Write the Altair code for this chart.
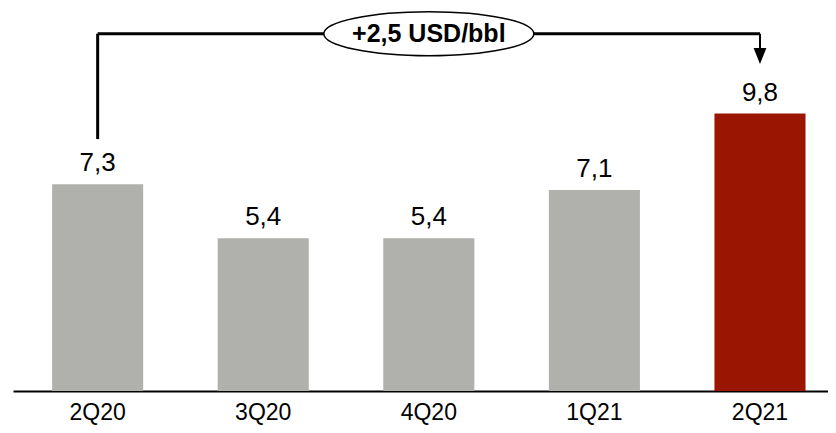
import altair as alt
import pandas as pd

quarters = ["2Q20", "3Q20", "4Q20", "1Q21", "2Q21"]
values = [7.3, 5.4, 5.4, 7.1, 9.8]
value_labels = ["7,3", "5,4", "5,4", "7,1", "9,8"]
bar_colors = ["#B0B1AD", "#B0B1AD", "#B0B1AD", "#B0B1AD", "#9B1602"]

delta_text = "+2,5 USD/bbl"
bracket_from = "2Q20"
bracket_to = "2Q21"
bracket_mid = "4Q20"
bracket_level = 12.62
bracket_start = 8.9
arrow_tip = 11.55

FONT = "Liberation Sans"

df = pd.DataFrame({"q": quarters, "v": values, "label": value_labels, "c": bar_colors})
bdf = pd.DataFrame({
    "from": [bracket_from], "to": [bracket_to], "mid": [bracket_mid],
    "top": [bracket_level], "start": [bracket_start], "tip": [arrow_tip],
    "tipline": [arrow_tip + 0.2], "label": [delta_text],
})

xscale = alt.Scale(domain=quarters, paddingInner=0.45, paddingOuter=0.186, align=0.635)
yscale = alt.Scale(domain=[0, 13.53])
xaxis = alt.Axis(title=None)

x = alt.X("q:N", sort=quarters, scale=xscale, axis=xaxis)
y = alt.Y("v:Q", scale=yscale, axis=None)

bars = alt.Chart(df).mark_bar().encode(x=x, y=y, color=alt.Color("c:N", scale=None))
vals = alt.Chart(df).mark_text(dy=-13, baseline="alphabetic", fontSize=26, font=FONT,
                               color="black").encode(x=x, y=y, text="label:N")

bx = lambda f: alt.X(f, sort=quarters, scale=xscale, axis=xaxis)
by = lambda f: alt.Y(f, scale=yscale, axis=None)

k = 0.21
c = 0.552
ellipse_path = (
    f"M-1,0C-1,{-c*k:.4f},{-c:.4f},{-k:.4f},0,{-k:.4f}"
    f"C{c:.4f},{-k:.4f},1,{-c*k:.4f},1,0"
    f"C1,{c*k:.4f},{c:.4f},{k:.4f},0,{k:.4f}"
    f"C{-c:.4f},{k:.4f},-1,{c*k:.4f},-1,0Z"
)

left = alt.Chart(bdf).mark_rule(color="black", strokeWidth=3).encode(
    x=bx("from:N"), y=by("start:Q"), y2="top:Q")
horiz = alt.Chart(bdf).mark_rule(color="black", strokeWidth=3).encode(
    x=bx("from:N"), x2="to:N", y=by("top:Q"))
right = alt.Chart(bdf).mark_rule(color="black", strokeWidth=2).encode(
    x=bx("to:N"), y=by("tipline:Q"), y2="top:Q")
arrow = alt.Chart(bdf).mark_point(shape="M-0.8,-2L0.8,-2L0,0Z", size=256, filled=True,
                                  color="black", opacity=1).encode(
    x=bx("to:N"), y=by("tip:Q"))
ellipse = alt.Chart(bdf).mark_point(
    shape=ellipse_path, size=44100,
    fill="white", stroke="black", strokeWidth=1.5, opacity=1, fillOpacity=1, filled=False
).encode(x=bx("mid:N"), y=by("top:Q"))
etext = alt.Chart(bdf).mark_text(fontSize=25, fontWeight="bold", font=FONT,
                                 baseline="middle", color="black").encode(
    x=bx("mid:N"), y=by("top:Q"), text="label:N")

chart = alt.layer(bars, vals, left, horiz, right, arrow, ellipse, etext).properties(
    width=815, height=383,
    autosize=alt.AutoSizeParams(type="none"),
    padding={"left": 5, "top": 0, "right": 0, "bottom": 34},
    background="white",
).configure_view(stroke=None).configure_axisX(
    labelFontSize=23, labelFont=FONT, labelColor="black",
    domainColor="black", domainWidth=2, ticks=False, labelPadding=10,
    labelAngle=0, grid=False,
)

chart.save("out.html", embed_options={"renderer": "svg", "actions": False})
